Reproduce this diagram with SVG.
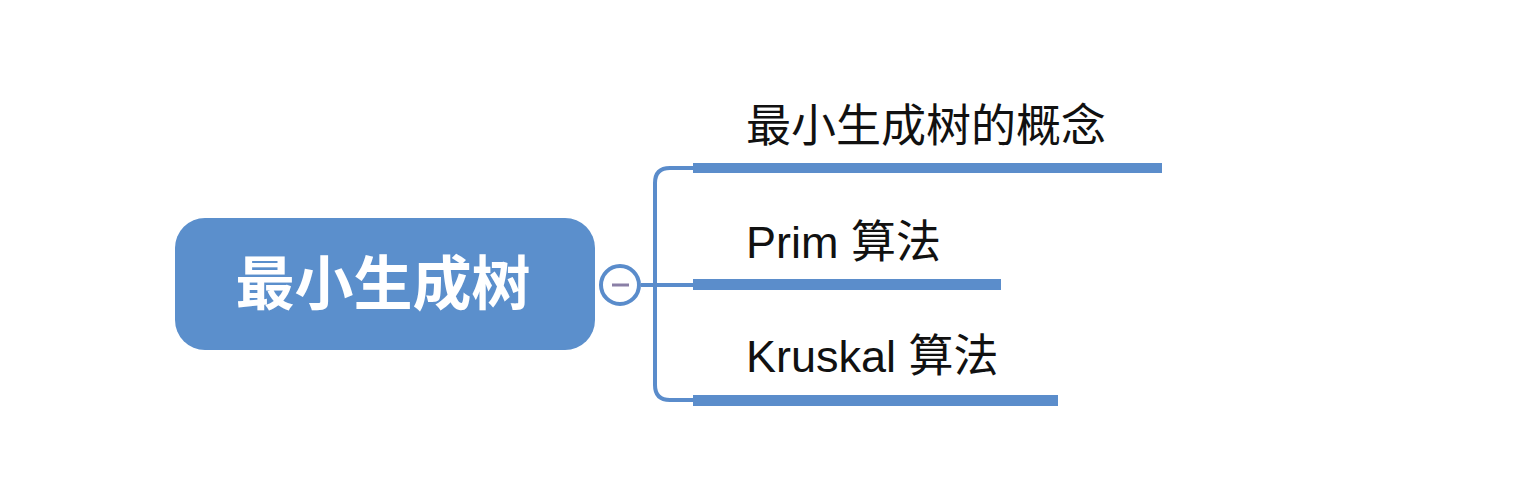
<svg xmlns="http://www.w3.org/2000/svg" width="1527" height="483" viewBox="0 0 1527 483">
<style>
.lbl{font-family:"Liberation Sans","Noto Sans CJK SC",sans-serif;font-size:45px;fill:#111}
.bar{fill:#5b8dcb}
.conn{fill:none;stroke:#5a8ccb;stroke-width:4}
</style>
<rect width="1527" height="483" fill="#ffffff"/>
<g id="connectors">
<path class="conn" d="M641 285 H693 M655 285 V183 Q655 168 670 168 H695 M655 285 V385 Q655 400 670 400 H695"/>
</g>
<g id="root">
<rect x="175" y="218" width="420" height="132" rx="30" ry="30" fill="#5b8fcc"/>
<text x="383" y="305" text-anchor="middle" font-family="Noto Sans CJK SC,sans-serif" font-size="59" font-weight="bold" fill="#ffffff">最小生成树</text>
</g>
<g id="collapse">
<circle cx="620" cy="285" r="19" fill="#ffffff" stroke="#5a8ccb" stroke-width="4"/>
<line x1="612" y1="285" x2="629" y2="285" stroke="#8a7fa6" stroke-width="3"/>
</g>
<g id="node1">
<rect class="bar" x="693" y="163" width="469" height="10"/>
<text class="lbl" x="746" y="142">最小生成树的概念</text>
</g>
<g id="node2">
<rect class="bar" x="693" y="279" width="308" height="11"/>
<text class="lbl" x="746" y="258">Prim 算法</text>
</g>
<g id="node3">
<rect class="bar" x="693" y="395" width="365" height="11"/>
<text class="lbl" x="746" y="372">Kruskal 算法</text>
</g>
</svg>
